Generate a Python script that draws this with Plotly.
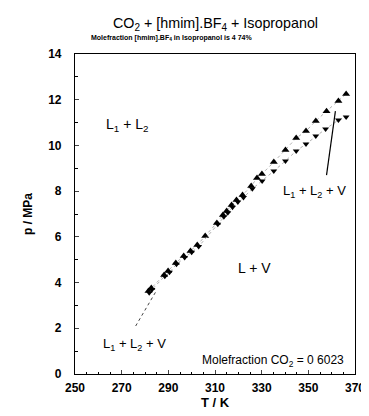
import plotly.graph_objects as go

# Upper branch (triangle-up markers)
T_up = [281.5, 282.7, 288.2, 289.9, 293.2, 296.6, 299.5, 302.4, 305.8, 310.8,
        313.4, 315.0, 317.1, 319.2, 321.8, 325.5, 328.0, 330.1, 335.2, 340.2,
        344.8, 349.0, 353.2, 357.8, 362.9, 366.2]
p_up = [3.63, 3.76, 4.33, 4.51, 4.86, 5.16, 5.38, 5.64, 6.04, 6.61,
        6.96, 7.13, 7.39, 7.61, 7.83, 8.22, 8.57, 8.75, 9.27, 9.80,
        10.32, 10.63, 11.07, 11.50, 11.94, 12.25]

# Lower branch (triangle-down markers)
T_dn = [281.8, 283.0, 288.5, 290.5, 293.5, 297.0, 300.0, 303.0, 311.2, 313.8,
        315.5, 317.5, 319.8, 322.2, 326.0, 330.2, 335.2, 340.2, 344.8, 349.0,
        353.2, 357.4, 362.9, 366.2]
p_dn = [3.55, 3.70, 4.28, 4.45, 4.80, 5.10, 5.33, 5.58, 6.55, 6.88,
        7.05, 7.30, 7.52, 7.72, 8.10, 8.44, 8.88, 9.32, 9.76, 10.06,
        10.41, 10.72, 11.11, 11.24]

x_ticks = [250, 270, 290, 310, 330, 350, 370]
y_ticks = [0, 2, 4, 6, 8, 10, 12, 14]

FONT = "Liberation Sans, Arial, sans-serif"

fig = go.Figure()
fig.add_trace(go.Scatter(x=T_up, y=p_up, mode="lines+markers",
                         line=dict(color="#9a9a9a", width=0.8, dash="dot"),
                         marker=dict(symbol="triangle-up", size=7, color="black"),
                         showlegend=False))
fig.add_trace(go.Scatter(x=T_dn, y=p_dn, mode="lines+markers",
                         line=dict(color="#9a9a9a", width=0.8, dash="dot"),
                         marker=dict(symbol="triangle-down", size=6, color="black"),
                         showlegend=False))

# pointer lines
fig.add_trace(go.Scatter(x=[357.8, 361.6], y=[8.70, 11.5], mode="lines",
                         line=dict(color="black", width=1.2), showlegend=False,
                         hoverinfo="skip"))
fig.add_trace(go.Scatter(x=[276.0, 284.8], y=[2.10, 3.63], mode="lines",
                         line=dict(color="#444", width=1, dash="dot"), showlegend=False,
                         hoverinfo="skip"))

ann = [
    dict(x=272.2, y=10.9, text="L<sub>1</sub> + L<sub>2</sub>", size=14),
    dict(x=326.8, y=4.64, text="L + V", size=14),
    dict(x=352.8, y=8.0, text="L<sub>1</sub> + L<sub>2</sub> + V", size=13),
    dict(x=275.6, y=1.31, text="L<sub>1</sub> + L<sub>2</sub> + V", size=13),
]
for a in ann:
    fig.add_annotation(x=a["x"], y=a["y"], text=a["text"], showarrow=False,
                       font=dict(family=FONT, size=a["size"], color="black"))
fig.add_annotation(x=366.0, y=0.55, xanchor="right", text="Molefraction CO<sub>2</sub> = 0 6023",
                   showarrow=False, font=dict(family=FONT, size=12, color="black"))

fig.add_annotation(x=0.5, y=1.0, xref="paper", yref="paper", yanchor="middle", yshift=30,
                   text="CO<sub>2</sub> + [hmim].BF<sub>4</sub> + Isopropanol",
                   showarrow=False, font=dict(family=FONT, size=14.3, color="black"))
fig.add_annotation(x=0.343, y=1.0, xref="paper", yref="paper", yanchor="middle", yshift=16,
                   text="<b>Molefraction [hmim].BF<sub>4</sub> in Isopropanol is 4 74%</b>",
                   showarrow=False, font=dict(family=FONT, size=7, color="black"))

fig.update_layout(
    width=369, height=416,
    margin=dict(l=67, r=16, t=46, b=50),
    paper_bgcolor="white", plot_bgcolor="white",
    font=dict(family=FONT, color="black"),
    xaxis=dict(range=[250, 370], tickvals=x_ticks, ticks="inside", ticklen=4,
               minor=dict(dtick=5, ticks="inside", ticklen=2, tickcolor="black"),
               showline=True, linecolor="black", linewidth=1.2, mirror=True,
               showgrid=False, zeroline=False, ticklabelstandoff=2,
               tickfont=dict(family=FONT, size=12, color="black", weight="bold"),
               title=dict(text="<b>T / K</b>", font=dict(family=FONT, size=13), standoff=4)),
    yaxis=dict(range=[0, 14], tickvals=y_ticks, ticks="inside", ticklen=4,
               minor=dict(dtick=1, ticks="inside", ticklen=3, tickcolor="black"),
               showline=True, linecolor="black", linewidth=1.2, mirror=True,
               showgrid=False, zeroline=False, ticklabelstandoff=10,
               tickfont=dict(family=FONT, size=12, color="black", weight="bold"),
               title=dict(text="<b>p / MPa</b>", font=dict(family=FONT, size=12), standoff=12)),
)

fig.write_html("out.html")
